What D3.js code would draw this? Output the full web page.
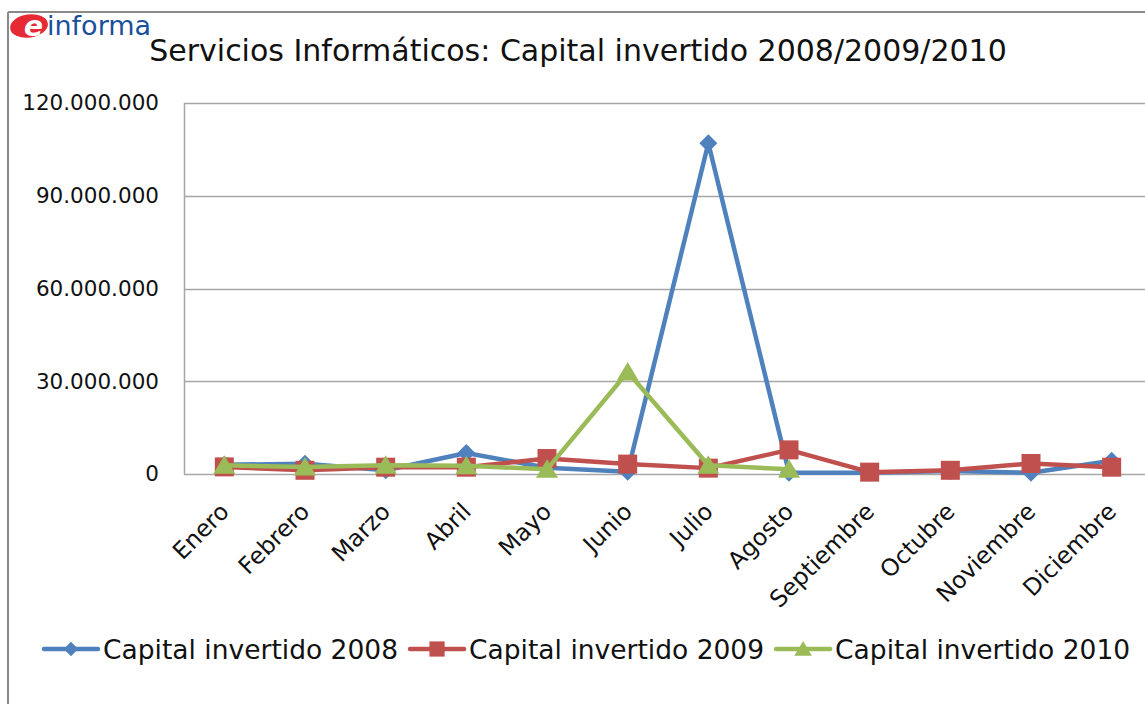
<!DOCTYPE html>
<html>
<head>
<meta charset="utf-8">
<script src="https://cdn.jsdelivr.net/npm/d3@7"></script>
<style>
  html, body { margin: 0; padding: 0; background: #fff; }
  svg { display: block; font-family: "DejaVu Sans", Verdana, sans-serif; }
</style>
</head>
<body>
<svg id="chart" width="1145" height="704"></svg>
<script>
// data (euros)
const months = ['Enero', 'Febrero', 'Marzo', 'Abril', 'Mayo', 'Junio', 'Julio',
  'Agosto', 'Septiembre', 'Octubre', 'Noviembre', 'Diciembre']
const capital2008 = [3000000, 3300000, 1200000, 6800000, 2000000, 700000, 107000000,
  400000, 400000, 1000000, 400000, 4300000]
const capital2009 = [2300000, 1200000, 2200000, 2200000, 5000000, 3200000, 1900000,
  7800000, 600000, 1200000, 3400000, 2200000]
const capital2010 = [2800000, 2300000, 2800000, 2700000, 1500000, 33000000, 2800000, 1500000]
const yTicks = [0, 30000000, 60000000, 90000000, 120000000]
const seriesNames = ['Capital invertido 2008', 'Capital invertido 2009', 'Capital invertido 2010']

const width = 1145
const height = 704
const svg = d3.select('#chart')

// spanish number format: 120.000.000
const es = d3.formatLocale({ decimal: ',', thousands: '.', grouping: [3], currency: ['', ' €'] })
const fmt = es.format(',d')

// outer frame
svg.append('line').attr('x1', 8).attr('y1', 12).attr('x2', width).attr('y2', 12)
  .attr('stroke', '#8a8a8a').attr('stroke-width', 2)
svg.append('line').attr('x1', 8).attr('y1', 12).attr('x2', 8).attr('y2', height)
  .attr('stroke', '#8a8a8a').attr('stroke-width', 2)

// logo
var logo = svg.append('g').attr('class', 'logo')
logo.append('ellipse').attr('cx', 29).attr('cy', 26).attr('rx', 19).attr('ry', 11.5)
  .attr('transform', 'rotate(-8,29,26)').attr('fill', '#e52a36')
logo.append('text').attr('x', 24).attr('y', 36).text('e')
  .attr('fill', '#fff').attr('font-size', 28).attr('font-weight', 'bold').attr('font-style', 'italic')
logo.append('text').attr('x', 47).attr('y', 35).text('informa')
  .attr('fill', '#1a4f9c').attr('font-size', 27)

// title
svg.append('text').attr('x', 578).attr('y', 61).attr('text-anchor', 'middle')
  .attr('font-size', 30).attr('fill', '#111')
  .text('Servicios Informáticos: Capital invertido 2008/2009/2010')

// scales
const plotLeft = 184
const plotRight = 1152
const plotTop = 103
const plotBottom = 474

const x = d3.scaleBand().domain(months).range([plotLeft, plotRight]).padding(0)
const y = d3.scaleLinear().domain([0, 120000000]).range([plotBottom, plotTop])
const cx = function (m) { return x(m) + x.bandwidth() / 2 }

// gridlines + y axis
const yAxis = d3.axisLeft(y).tickValues(yTicks).tickFormat(fmt).tickSize(0).tickPadding(25)
const yG = svg.append('g').attr('transform', `translate(${plotLeft},0)`).call(yAxis)
yG.select('.domain').remove()
yG.selectAll('text').attr('font-size', 21.5).attr('fill', '#111')
  .attr('font-family', '"DejaVu Sans", Verdana, sans-serif')

svg.append('g').selectAll('line').data(yTicks).enter().append('line')
  .attr('x1', plotLeft).attr('x2', width)
  .attr('y1', function (d) { return Math.round(y(d)) + 0.5 })
  .attr('y2', function (d) { return Math.round(y(d)) + 0.5 })
  .attr('stroke', '#a6a6a6').attr('stroke-width', 1.5)
svg.append('line').attr('x1', plotLeft + 0.5).attr('x2', plotLeft + 0.5)
  .attr('y1', plotTop).attr('y2', plotBottom + 1)
  .attr('stroke', '#a6a6a6').attr('stroke-width', 1.5)

// x labels, rotated
svg.append('g').selectAll('text').data(months).enter().append('text')
  .attr('transform', function (d) { return `translate(${cx(d) + 6},${plotBottom + 39}) rotate(-45)` })
  .attr('text-anchor', 'end')
  .attr('font-size', 23.5).attr('fill', '#111')
  .text(function (d) { return d })

// markers
function diamond(g, s) {
  return g.append('path').attr('d', `M0,${-s}L${s},0L0,${s}L${-s},0Z`)
}
function square(g, s) {
  return g.append('rect').attr('x', -s).attr('y', -s).attr('width', 2 * s).attr('height', 2 * s)
}
function triangle(g, s) {
  return g.append('path').attr('d', `M0,${-s}L${s * 1.1},${s * 0.85}L${-s * 1.1},${s * 0.85}Z`)
}

const series = [
  { name: seriesNames[0], values: capital2008, color: '#4f81bd', marker: diamond, size: 9 },
  { name: seriesNames[1], values: capital2009, color: '#c0504d', marker: square, size: 9.5 },
  { name: seriesNames[2], values: capital2010, color: '#9bbb59', marker: triangle, size: 10 }
]

const line = d3.line()
  .x(function (d, i) { return cx(months[i]) })
  .y(function (d) { return y(d) })

series.forEach(function (s) {
  var g = svg.append('g').attr('class', 'series')
  g.append('path').datum(s.values).attr('d', line)
    .attr('fill', 'none').attr('stroke', s.color).attr('stroke-width', 4.5)
    .attr('stroke-linejoin', 'round')
  s.values.forEach(function (v, i) {
    var mg = g.append('g').attr('transform', `translate(${cx(months[i])},${y(v)})`)
    s.marker(mg, s.size).attr('fill', s.color)
  })
})

// legend
var legendX = 44
const legendY = 649
series.forEach(function (s) {
  var lg = svg.append('g').attr('transform', `translate(${legendX},${legendY})`)
  lg.append('line').attr('x1', 0).attr('x2', 54).attr('y1', 0).attr('y2', 0)
    .attr('stroke', s.color).attr('stroke-width', 4.5).attr('stroke-linecap', 'round')
  var mg = lg.append('g').attr('transform', 'translate(27,0)')
  s.marker(mg, s.size * 0.8).attr('fill', s.color)
  var t = lg.append('text').attr('x', 59).attr('y', 10).attr('font-size', 26.5).attr('fill', '#111')
    .text(s.name)
  legendX += 59 + t.node().getComputedTextLength() + 12
})
</script>
</body>
</html>
